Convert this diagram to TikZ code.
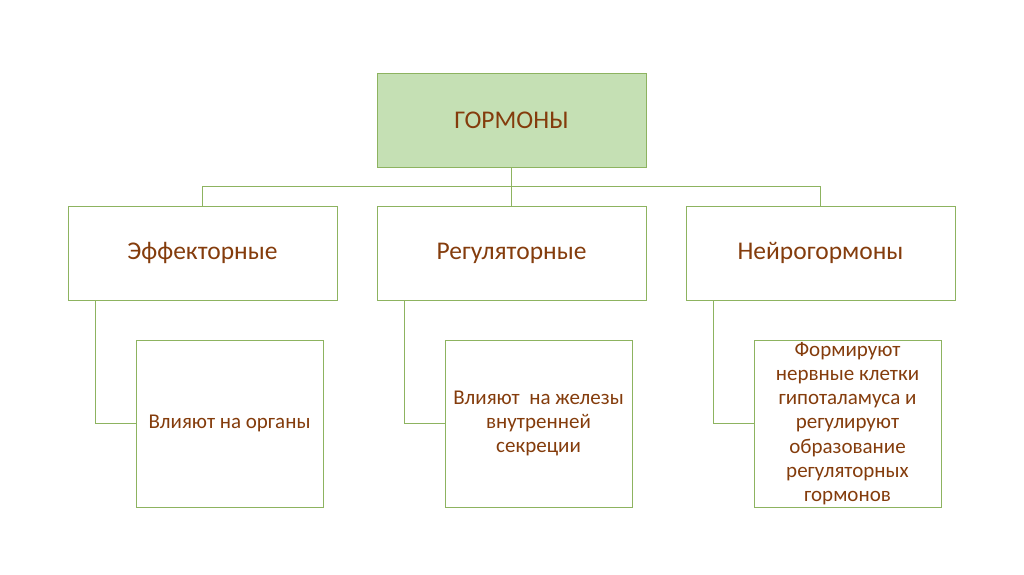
\documentclass[tikz,border=0pt]{standalone}
\usepackage{fontspec}
\setmainfont{Carlito}
\definecolor{txt}{HTML}{843C0C}
\definecolor{edge}{HTML}{8DB360}
\definecolor{topfill}{HTML}{C5E0B4}
\begin{document}
\begin{tikzpicture}[x=1pt,y=-1pt,
  box/.style={draw=edge,line width=1pt,rectangle,inner sep=0pt,text=txt,align=center},
  big/.style={box,minimum width=269pt,minimum height=94pt,font=\fontsize{25.5}{30}\selectfont},
  small/.style={box,minimum width=187pt,minimum height=167pt,font=\fontsize{21}{24.2}\selectfont},
  conn/.style={draw=edge,line width=1pt}]
\useasboundingbox (0,0) rectangle (1024,574);
\node[big,fill=topfill] (top) at (511.5,120) {ГОРМОНЫ};
\node[big] (a) at (202.5,253) {Эффекторные};
\node[big] (b) at (511.5,253) {Регуляторные};
\node[big] (c) at (820.5,253) {Нейрогормоны};
\node[small] (a1) at (229.5,423.5) {Влияют на органы};
\node[small] (b1) at (538.5,423.5) {Влияют \ на железы\\внутренней\\секреции};
\node[small] (c1) at (847.5,423.5) {Формируют\\нервные клетки\\гипоталамуса и\\регулируют\\образование\\регуляторных\\гормонов};
\coordinate (bus) at (511.5,186);
\coordinate (busa) at (202.5,186);
\coordinate (busc) at (820.5,186);
\draw[conn] (top.south) -- (bus);
\draw[conn] (a.north) -- (busa) -- (busc) -- (c.north);
\draw[conn] (bus) -- (b.north);
\draw[conn] ([xshift=-107pt]a.south) |- (a1.west);
\draw[conn] ([xshift=-107pt]b.south) |- (b1.west);
\draw[conn] ([xshift=-107pt]c.south) |- (c1.west);
\end{tikzpicture}
\end{document}
